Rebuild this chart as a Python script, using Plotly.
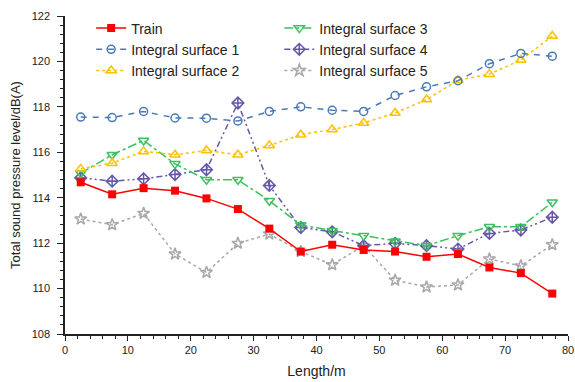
import plotly.graph_objects as go

length_m = [2.5, 7.5, 12.5, 17.5, 22.5, 27.5, 32.5, 37.5, 42.5, 47.5, 52.5, 57.5, 62.5, 67.5, 72.5, 77.5]

train = [114.68, 114.15, 114.42, 114.31, 113.97, 113.5, 112.64, 111.63, 111.93, 111.7, 111.63, 111.4, 111.52, 110.93, 110.68, 109.78]
surf1 = [117.55, 117.53, 117.8, 117.51, 117.5, 117.38, 117.8, 118.0, 117.85, 117.8, 118.5, 118.88, 119.15, 119.9, 120.35, 120.23]
surf2 = [115.27, 115.52, 116.04, 115.89, 116.08, 115.89, 116.3, 116.77, 117.0, 117.29, 117.73, 118.32, 119.17, 119.44, 120.06, 121.12]
surf3 = [115.08, 115.89, 116.52, 115.49, 114.79, 114.79, 113.87, 112.8, 112.55, 112.33, 112.08, 111.89, 112.33, 112.72, 112.72, 113.8]
surf4 = [114.87, 114.73, 114.83, 115.02, 115.23, 118.17, 114.54, 112.69, 112.5, 111.89, 111.99, 111.89, 111.74, 112.43, 112.58, 113.14]
surf5 = [113.06, 112.81, 113.31, 111.52, 110.71, 111.99, 112.4, 111.63, 111.05, 111.89, 110.37, 110.07, 110.16, 111.3, 111.0, 111.93]

series = [
    ("Integral surface 5", surf5, "#a8a8a8", "3px,3px", "star-open", 9, "legend2"),
    ("Integral surface 4", surf4, "#6658a8", "6px,3px,2px,3px,2px,3px", "diamond-cross-open", 9, "legend2"),
    ("Integral surface 3", surf3, "#3cc060", "dashdot", "triangle-down-open", 9, "legend2"),
    ("Integral surface 2", surf2, "#ffc000", "dot", "triangle-up-open", 9, "legend"),
    ("Integral surface 1", surf1, "#4a7ab8", "6px,6px", "circle-open", 8, "legend"),
]

fig = go.Figure()
for name, vals, col, dash, sym, sz, lg in series:
    fig.add_trace(go.Scatter(
        x=length_m, y=vals, name=name, mode="lines+markers", legend=lg,
        line=dict(color=col, width=1.5, dash=dash),
        marker=dict(symbol=sym, size=sz, color=col, line=dict(width=1.5, color=col)),
    ))
fig.add_trace(go.Scatter(
    x=length_m, y=train, name="Train", mode="lines+markers", legend="legend",
    line=dict(color="#ff0000", width=1.5),
    marker=dict(symbol="square", size=8, color="#ff0000"),
))

font = "Liberation Sans, Arial, sans-serif"
leg_common = dict(yref="paper", xref="paper", xanchor="left", yanchor="top",
                  traceorder="reversed", bgcolor="rgba(0,0,0,0)",
                  font=dict(size=14, color="#222"), tracegroupgap=0, itemwidth=30)
fig.update_layout(
    width=575, height=382,
    margin=dict(l=65, r=7, t=16, b=48, autoexpand=False),
    paper_bgcolor="white", plot_bgcolor="white",
    font=dict(family=font, size=14, color="#222"),
    showlegend=True,
    legend=dict(x=0.052, y=1.011, **leg_common),
    legend2=dict(x=0.426, y=1.011, **leg_common),
    xaxis=dict(range=[0, 80], dtick=10, showgrid=False, zeroline=False,
               showline=True, linecolor="#222", linewidth=1.5,
               ticks="outside", ticklen=5, tickcolor="#222", ticklabeloverflow="allow",
               minor=dict(dtick=2, ticks="outside", ticklen=3, tickcolor="#222"),
               tickfont=dict(size=11, color="#222"),
               title=dict(text="Length/m", font=dict(size=14, color="#222"), standoff=11)),
    yaxis=dict(range=[108, 122], dtick=2, showgrid=False, zeroline=False,
               showline=True, linecolor="#222", linewidth=1.5,
               ticks="outside", ticklen=6, tickcolor="#222", ticklabelstandoff=5,
               minor=dict(dtick=0.4, ticks="outside", ticklen=3, tickcolor="#222"),
               tickfont=dict(size=11, color="#222"),
               title=dict(text="Total sound pressure level/dB(A)", font=dict(size=13, color="#222"), standoff=8)),
)

# remove the browser's default 8px body margin so the figure sits at (0, 0)
fig.write_html("out.html", config={"displayModeBar": False},
               post_script="document.body.style.margin='0';document.body.style.overflow='hidden';")
